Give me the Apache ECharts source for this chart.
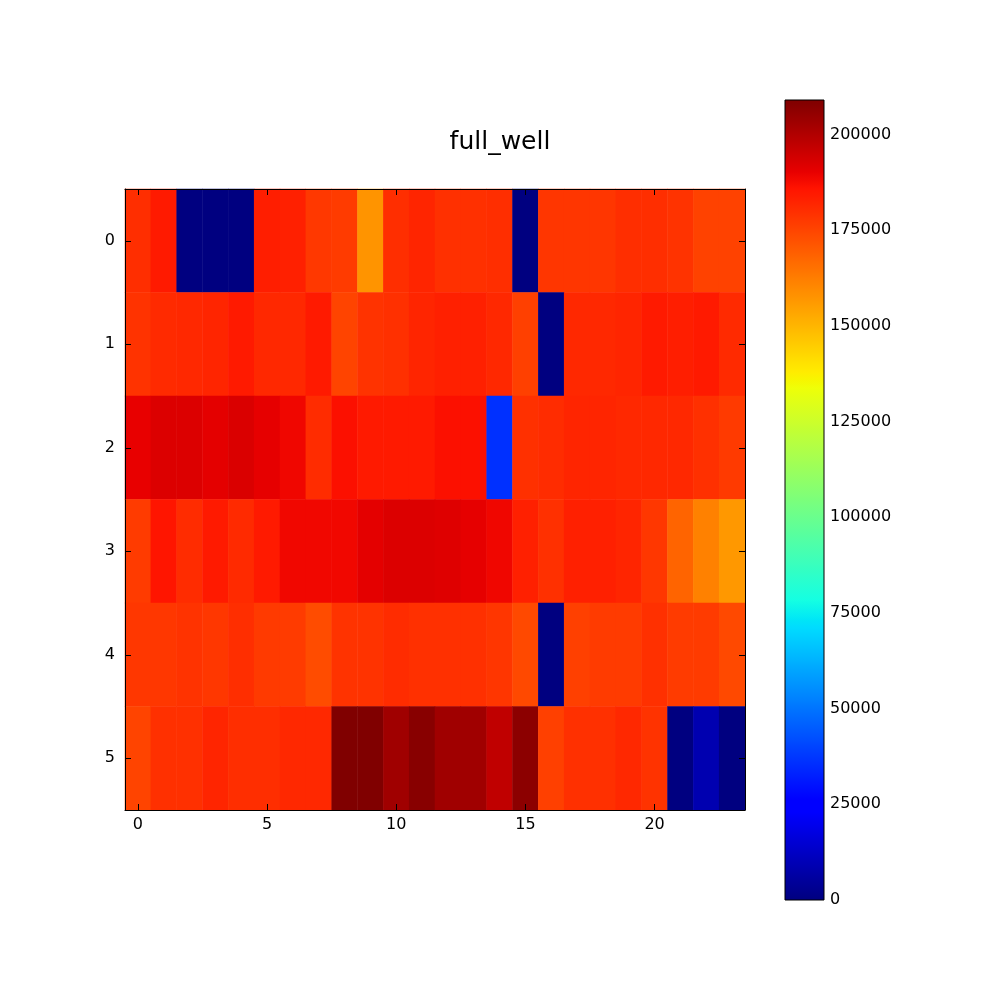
<!DOCTYPE html>
<html>
<head>
<meta charset="utf-8">
<script src="https://cdn.jsdelivr.net/npm/echarts@6/dist/echarts.min.js"></script>
<style>
html,body{margin:0;padding:0;background:#fff;}
#chart{width:1000px;height:1000px;}
</style>
</head>
<body>
<div id="chart"></div>
<script>
// ---- data ----
const titleText = 'full_well';
const xCategories = Array.from({length: 24}, (_, i) => String(i));
const yCategories = ['0', '1', '2', '3', '4', '5'];
const row0 = [180000,184400,0,0,0,183600,183000,177900,177000,157400,180000,182000,179600,179600,180000,0,178300,178300,178300,180000,180000,178900,175600,175600];
const row1 = [178900,181000,181500,182000,184500,181500,181500,184500,175100,178900,179500,182000,183000,183000,181500,176000,0,181500,181500,182000,184500,183600,184400,181000];
const row2 = [190200,192300,192300,190900,192600,190500,188800,180500,186600,184500,184500,184500,186600,186600,35900,179500,180500,182000,182000,181500,181500,181500,179600,177500];
const row3 = [177000,185500,180500,184500,181000,184400,188500,188500,188500,190900,192300,192300,191800,190500,188800,183000,179600,183000,183000,182000,178000,168000,161800,156600];
const row4 = [178000,178000,179000,178000,180000,177500,177000,173500,179000,179000,180500,179600,179600,179600,178300,174000,0,176000,177000,177000,179500,177000,177000,174000];
const row5 = [175100,179600,179500,182000,180000,180000,181500,181500,209000,209000,203000,207500,203000,203000,197300,206700,176000,179600,179500,181500,179000,0,8700,0];
const rows = [row0, row1, row2, row3, row4, row5];
const colorMin = 0;
const colorMax = 209000;
const colorTickStep = 25000;

// ---- jet colormap ----
const jetR = [[0,0],[0.35,0],[0.66,1],[0.89,1],[1,0.5]];
const jetG = [[0,0],[0.125,0],[0.375,1],[0.64,1],[0.91,0],[1,0]];
const jetB = [[0,0.5],[0.11,1],[0.34,1],[0.65,0],[1,0]];
function seg(p, t) {
  for (let i = 1; i < p.length; i++) {
    if (t <= p[i][0]) {
      const a = p[i-1], b = p[i];
      return a[1] + (b[1]-a[1]) * (t - a[0]) / (b[0]-a[0]);
    }
  }
  return p[p.length-1][1];
}
function jet(t) {
  const r = Math.round(seg(jetR,t)*255), g = Math.round(seg(jetG,t)*255), b = Math.round(seg(jetB,t)*255);
  return 'rgb(' + r + ',' + g + ',' + b + ')';
}
const N = 200;
const jetColors = [];
const jetStops = [];
for (let i = 0; i <= N; i++) {
  const t = i / N;
  jetColors.push(jet(t));
  jetStops.push({offset: t, color: jet(t)});
}

const heatData = [];
rows.forEach((r, yi) => r.forEach((v, xi) => heatData.push([xi, yi, v])));

const font = 'DejaVu Sans';
const every5 = function (i) { return i % 5 === 0; };
const tickStyle = {color: '#000', width: 1};
const chart = echarts.init(document.getElementById('chart'));
chart.setOption({
  backgroundColor: '#fff',
  animation: false,
  title: {
    text: titleText, left: 'center', top: 125,
    textStyle: {fontFamily: font, fontSize: 25, fontWeight: 'normal', color: '#000'}
  },
  grid: [
    {left: 125, top: 189, width: 620, height: 621},
    {left: 785, top: 100, width: 39, height: 800, show: true, borderColor: '#000', borderWidth: 1, backgroundColor: 'transparent', zlevel: 1}
  ],
  xAxis: [
    {type: 'category', gridIndex: 0, data: xCategories, position: 'bottom', zlevel: 1,
     axisLine: {lineStyle: {color: '#000', width: 1}},
     axisTick: {show: true, inside: true, alignWithLabel: true, interval: every5, length: 6, lineStyle: tickStyle},
     axisLabel: {interval: every5, fontFamily: font, fontSize: 16, color: '#000', margin: 7},
     splitLine: {show: false}},
    {type: 'category', gridIndex: 0, data: xCategories, position: 'top', zlevel: 1,
     axisLine: {lineStyle: {color: '#000', width: 1}},
     axisTick: {show: true, inside: true, alignWithLabel: true, interval: every5, length: 6, lineStyle: tickStyle},
     axisLabel: {show: false}, splitLine: {show: false}},
    {type: 'category', gridIndex: 1, data: ['cb'],
     axisLine: {show: false}, axisTick: {show: false}, axisLabel: {show: false}, splitLine: {show: false}}
  ],
  yAxis: [
    {type: 'category', gridIndex: 0, data: yCategories, inverse: true, position: 'left', zlevel: 1,
     axisLine: {lineStyle: {color: '#000', width: 1}},
     axisTick: {show: true, inside: true, alignWithLabel: true, interval: 0, length: 6, lineStyle: tickStyle},
     axisLabel: {fontFamily: font, fontSize: 16, color: '#000', margin: 10},
     splitLine: {show: false}},
    {type: 'category', gridIndex: 0, data: yCategories, inverse: true, position: 'right', zlevel: 1,
     axisLine: {lineStyle: {color: '#000', width: 1}},
     axisTick: {show: true, inside: true, alignWithLabel: true, interval: 0, length: 6, lineStyle: tickStyle},
     axisLabel: {show: false}, splitLine: {show: false}},
    {type: 'value', gridIndex: 1, min: colorMin, max: colorMax, interval: colorTickStep, position: 'right', zlevel: 1,
     axisLine: {show: false},
     axisTick: {inside: true, length: 6, lineStyle: tickStyle},
     axisLabel: {fontFamily: font, fontSize: 16, color: '#000', margin: 6, showMaxLabel: false, formatter: function (v) { return String(v); }},
     splitLine: {show: false}}
  ],
  visualMap: {
    show: false, type: 'continuous', seriesIndex: 0, dimension: 2,
    min: colorMin, max: colorMax, inRange: {color: jetColors}
  },
  series: [
    {type: 'heatmap', xAxisIndex: 0, yAxisIndex: 0, data: heatData, itemStyle: {borderWidth: 0}},
    {type: 'bar', xAxisIndex: 2, yAxisIndex: 2, data: [colorMax], barWidth: '100%', silent: true,
     itemStyle: {color: new echarts.graphic.LinearGradient(0, 1, 0, 0, jetStops)}}
  ]
});
</script>
</body>
</html>
